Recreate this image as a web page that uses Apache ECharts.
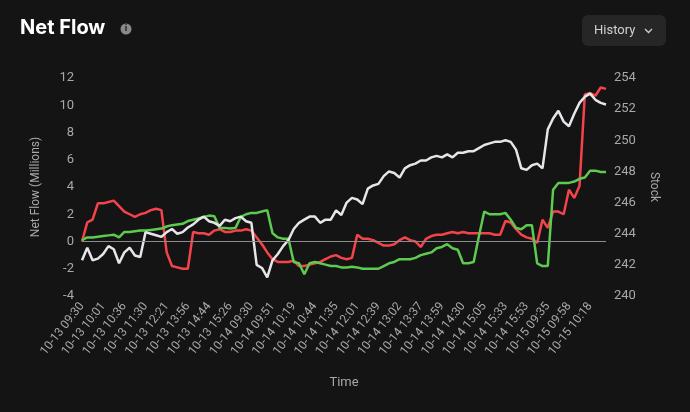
<!DOCTYPE html>
<html><head><meta charset="utf-8">
<script src="https://cdn.jsdelivr.net/npm/echarts@6/dist/echarts.min.js"></script>
<style>html,body{margin:0;padding:0;background:#141414;}#c{width:690px;height:412px;}</style>
</head><body><div id="c"></div>
<script>
const categories = [
"10-13 09:30","10-13 09:38","10-13 09:46","10-13 09:53","10-13 10:01","10-13 10:10","10-13 10:19","10-13 10:27",
"10-13 10:36","10-13 10:49","10-13 11:02","10-13 11:16","10-13 11:30","10-13 11:43","10-13 11:56","10-13 12:08",
"10-13 12:21","10-13 12:45","10-13 13:09","10-13 13:32","10-13 13:56","10-13 14:08","10-13 14:20","10-13 14:32",
"10-13 14:44","10-13 14:54","10-13 15:05","10-13 15:15","10-13 15:26","10-13 15:36","10-13 15:45","10-13 15:53",
"10-14 09:30","10-14 09:35","10-14 09:40","10-14 09:46","10-14 09:51","10-14 09:58","10-14 10:05","10-14 10:12",
"10-14 10:19","10-14 10:25","10-14 10:31","10-14 10:38","10-14 10:44","10-14 10:57","10-14 11:10","10-14 11:22",
"10-14 11:35","10-14 11:41","10-14 11:48","10-14 11:54","10-14 12:01","10-14 12:10","10-14 12:20","10-14 12:29",
"10-14 12:39","10-14 12:45","10-14 12:51","10-14 12:57","10-14 13:02","10-14 13:11","10-14 13:20","10-14 13:28",
"10-14 13:37","10-14 13:42","10-14 13:48","10-14 13:53","10-14 13:59","10-14 14:07","10-14 14:15","10-14 14:22",
"10-14 14:30","10-14 14:39","10-14 14:48","10-14 14:56","10-14 15:05","10-14 15:12","10-14 15:19","10-14 15:26",
"10-14 15:33","10-14 15:38","10-14 15:43","10-14 15:48","10-14 15:53","10-14 15:56","10-14 15:58","10-15 09:30",
"10-15 09:35","10-15 09:40","10-15 09:46","10-15 09:52","10-15 09:58","10-15 10:03","10-15 10:08","10-15 10:13",
"10-15 10:18","10-15 10:23","10-15 10:28","10-15 10:33"];
const redFlow = [0,1.4,1.6,2.8,2.8,2.9,3.0,2.6,2.2,2.0,1.8,2.0,2.1,2.3,2.4,2.3,-0.8,-1.8,-1.9,-2.0,-2.0,0.7,0.6,0.6,0.5,0.8,0.9,0.7,0.7,0.8,0.8,0.9,0.8,0.3,-0.2,-0.8,-1.3,-1.5,-1.5,-1.5,-1.4,-1.8,-1.8,-1.7,-1.6,-1.5,-1.3,-1.1,-1.0,-1.2,-1.3,-1.2,0.5,0.2,0.2,0.1,-0.1,-0.3,-0.3,-0.2,0.1,0.3,0.1,0,-0.4,0.2,0.4,0.5,0.5,0.6,0.7,0.6,0.7,0.6,0.6,0.6,0.6,0.6,0.5,0.5,1.5,1.4,0.9,0.5,0.3,0.2,-0.1,1.6,1.0,2.2,2.2,2.0,3.8,3.2,4.1,10.8,10.9,10.7,11.3,11.2];
const greenFlow = [0.1,0.3,0.3,0.35,0.4,0.45,0.5,0.3,0.7,0.7,0.75,0.8,0.8,0.85,0.9,0.95,1.1,1.2,1.25,1.3,1.5,1.6,1.7,1.8,1.9,1.85,1.0,1.0,0.95,1.0,1.8,2.0,2.1,2.1,2.2,2.3,0.6,0.3,0.2,0.2,-1.5,-1.6,-2.4,-1.6,-1.5,-1.6,-1.7,-1.8,-1.8,-1.9,-1.9,-1.85,-1.9,-2.0,-2.0,-2.0,-2.0,-1.8,-1.6,-1.5,-1.3,-1.3,-1.3,-1.2,-1.0,-0.9,-0.8,-0.5,-0.4,-0.2,-0.5,-0.6,-1.6,-1.6,-1.5,0.4,2.2,2.0,2.0,2.0,2.1,1.6,1.0,0.9,1.2,1.2,-1.6,-1.8,-1.8,3.8,4.3,4.3,4.3,4.4,4.6,4.7,5.2,5.2,5.1,5.1];
const stock = [242.3,243.1,242.3,242.4,242.7,243.2,243.0,242.1,242.8,243.1,242.6,242.5,244.1,244.0,243.9,243.8,244.1,244.3,244.0,244.1,244.4,244.6,244.9,245.1,244.8,244.7,244.5,244.9,244.8,245.0,245.1,244.8,244.7,242.0,241.8,241.2,242.3,242.7,243.2,243.6,244.3,244.7,244.9,245.1,245.1,244.7,244.9,244.9,245.5,245.2,246.0,246.3,246.2,245.9,246.9,247.1,247.2,247.7,248.0,247.9,247.6,248.2,248.4,248.5,248.7,248.7,248.9,249.0,248.9,249.1,248.9,249.2,249.2,249.3,249.3,249.5,249.7,249.8,249.9,249.9,250.0,249.9,249.4,248.2,248.1,248.4,248.5,248.2,250.7,251.4,251.9,251.2,250.9,251.7,252.4,252.8,253.0,252.6,252.4,252.3];

const chart = echarts.init(document.getElementById('c'));
const ax = '#a8a8a8';
chart.setOption({
  backgroundColor:'#141414',
  animation:false,
  textStyle:{fontFamily:'Roboto, sans-serif'},
  graphic:[
    {type:'text',left:20,top:18,style:{text:'Net Flow',fill:'#fff',font:'bold 20px Inter, sans-serif'}},
    {type:'circle',shape:{cx:126,cy:29,r:5.5},style:{fill:'#8a8a8a'}},
    {type:'text',x:126,y:29,style:{text:'i',fill:'#141414',font:'bold 9px sans-serif',align:'center',verticalAlign:'middle'}},
    {type:'rect',shape:{x:582,y:15,width:84,height:31,r:6},style:{fill:'#262626'}},
    {type:'text',x:594,y:31,style:{text:'History',fill:'#d0d0d0',font:'13px Roboto, sans-serif',verticalAlign:'middle'}},
    {type:'polyline',shape:{points:[[645,29],[648.5,32.5],[652,29]]},style:{stroke:'#d0d0d0',lineWidth:1.3,fill:null}}
  ],
  grid:{left:82,right:84,top:78,bottom:116},
  xAxis:{type:'category',data:categories,boundaryGap:false,name:'Time',nameLocation:'middle',nameGap:80,
    nameTextStyle:{color:ax,fontSize:13},
    axisLine:{show:false},axisTick:{show:false},
    axisLabel:{color:ax,fontSize:12,rotate:52,interval:3,margin:8}},
  yAxis:[
    {type:'value',min:-4,max:12,interval:2,name:'Net Flow (Millions)',nameLocation:'middle',nameGap:40,
      nameTextStyle:{color:ax,fontSize:12},splitLine:{show:false},axisLine:{show:false},axisTick:{show:false},
      axisLabel:{color:ax,fontSize:13}},
    {type:'value',min:240,max:254,interval:2,name:'Stock',nameLocation:'middle',nameGap:42,nameRotate:-90,
      nameTextStyle:{color:ax,fontSize:12},splitLine:{show:false},axisLine:{show:false},axisTick:{show:false},
      axisLabel:{color:ax,fontSize:13}}
  ],
  series:[
    {type:'line',data:redFlow,showSymbol:false,lineStyle:{color:'#f5434b',width:2.5},itemStyle:{color:'#f5434b'},
      markLine:{silent:true,symbol:'none',label:{show:false},lineStyle:{color:'#8c8c8c',width:1,type:'solid'},data:[{yAxis:0}]}},
    {type:'line',data:greenFlow,showSymbol:false,lineStyle:{color:'#5ccb4f',width:2.5},itemStyle:{color:'#5ccb4f'}},
    {type:'line',yAxisIndex:1,data:stock,showSymbol:false,lineStyle:{color:'#e6e6ea',width:2.5},itemStyle:{color:'#e6e6ea'}}
  ]
});
</script></body></html>
